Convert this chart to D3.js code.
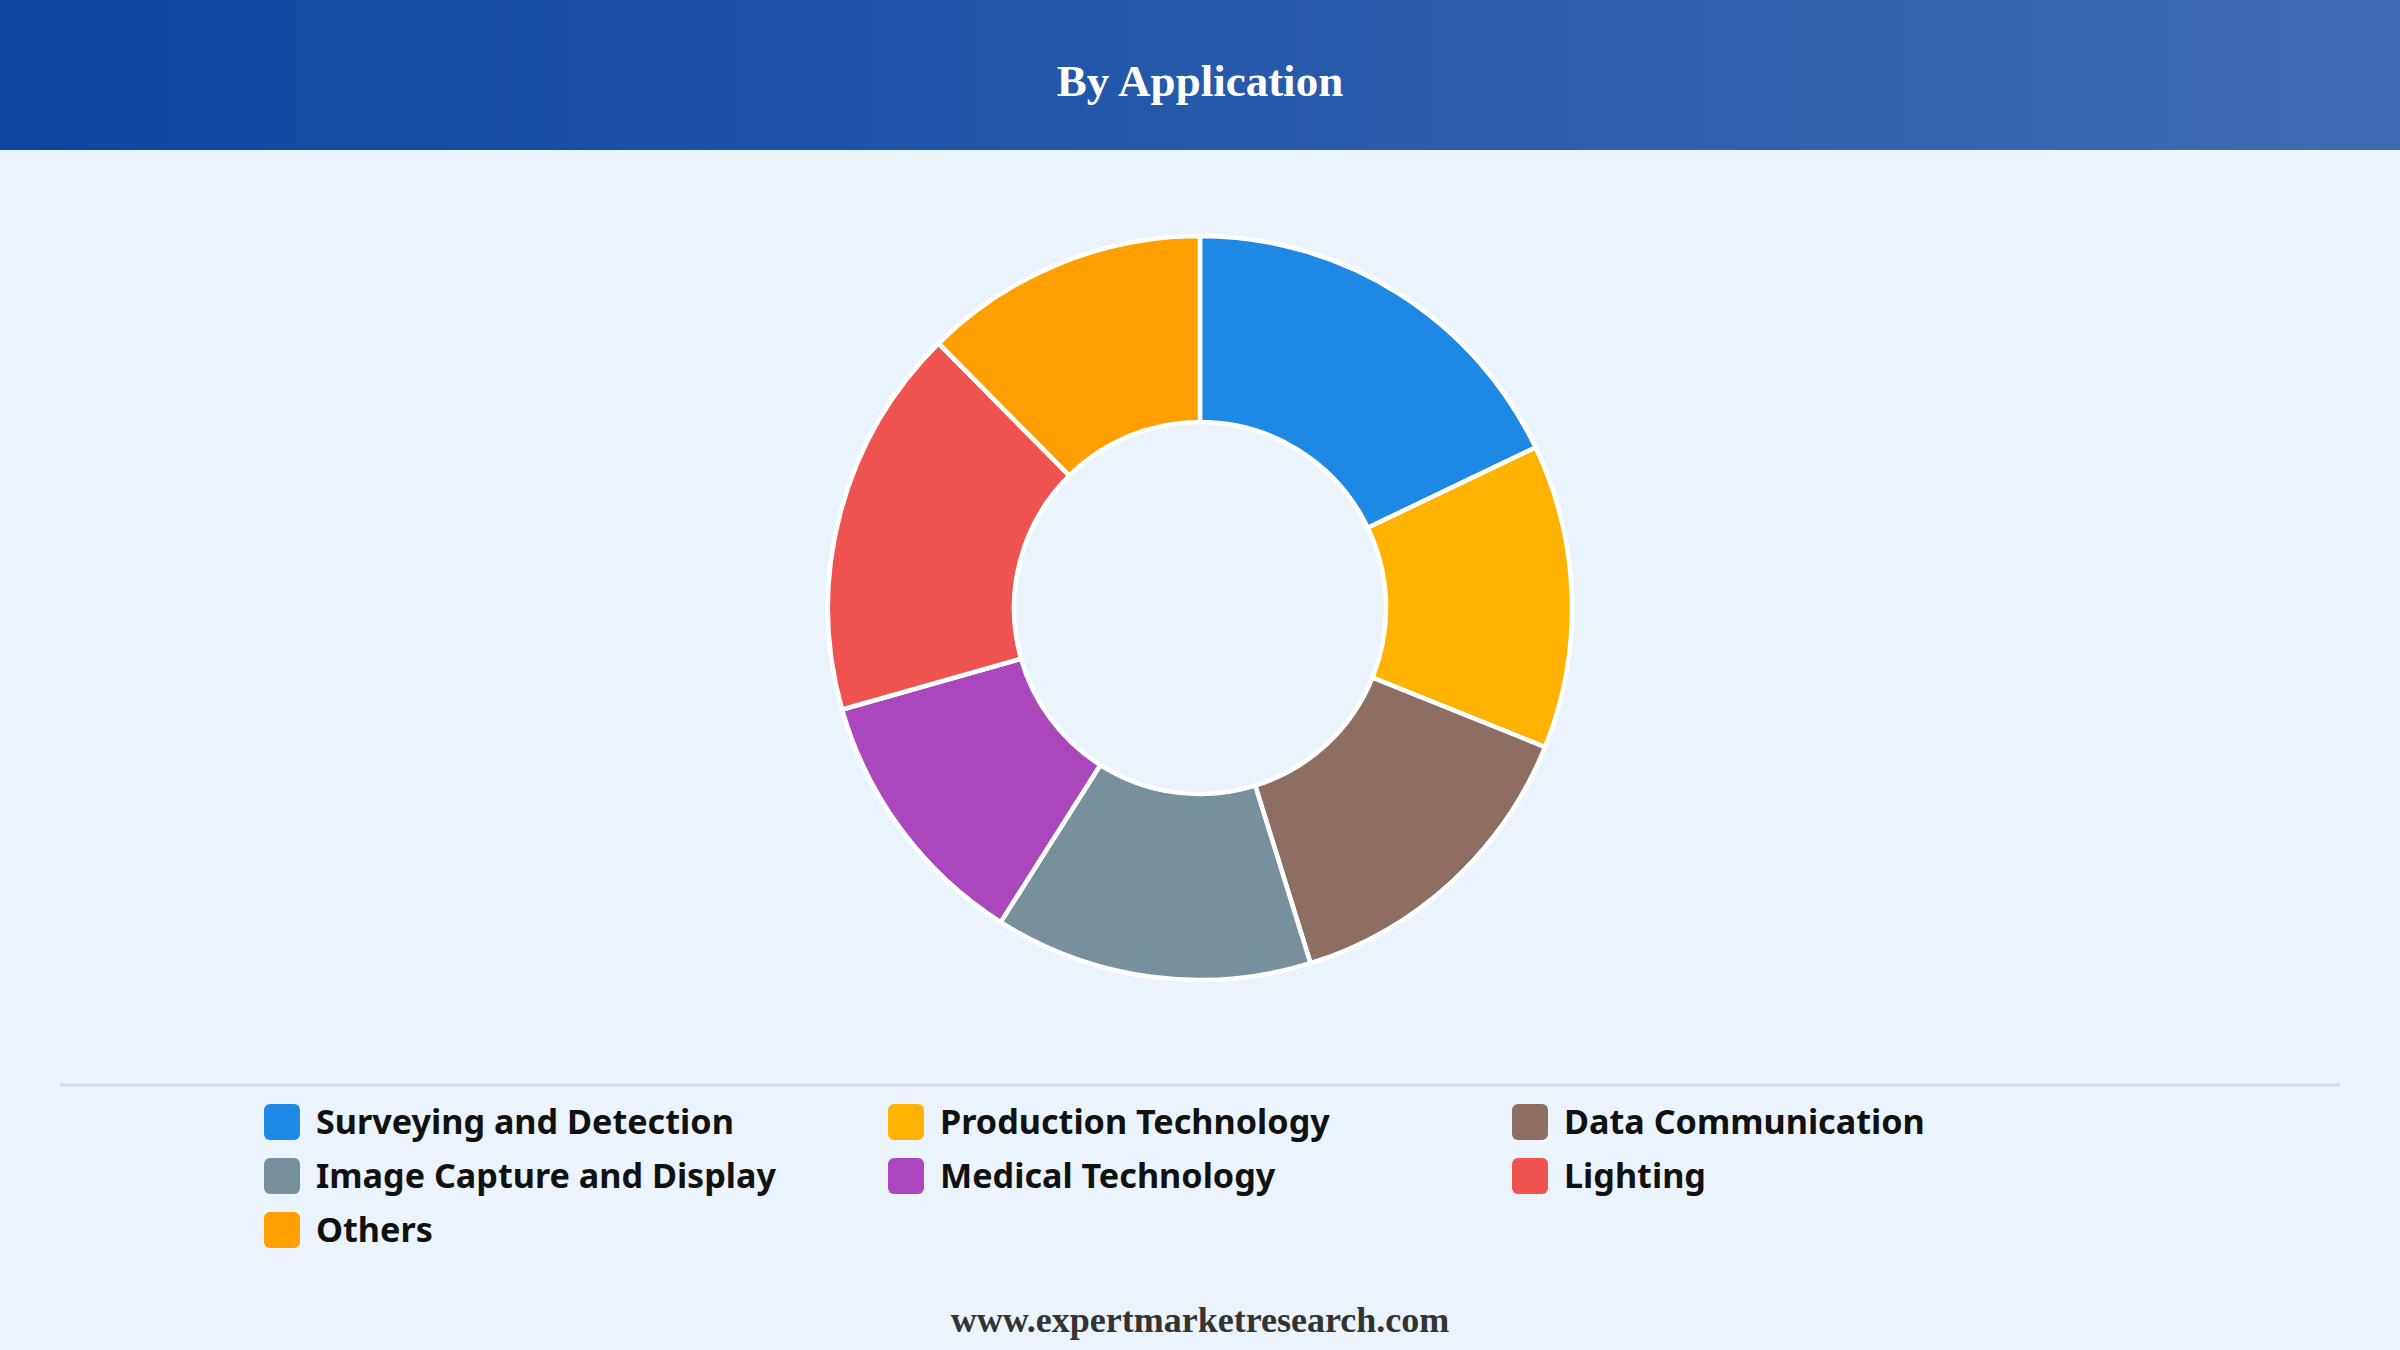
<!DOCTYPE html>
<html>
<head>
<meta charset="utf-8">
<script src="https://cdn.jsdelivr.net/npm/d3@7"></script>
<style>
  html, body { margin: 0; padding: 0; background: #EBF3FC; }
  svg { display: block; }
</style>
</head>
<body>
<svg id="chart" width="2400" height="1350"></svg>
<script>
// ---- data ----
const title = "By Application";
const footer = "www.expertmarketresearch.com";
const categories = [
  "Surveying and Detection",
  "Production Technology",
  "Data Communication",
  "Image Capture and Display",
  "Medical Technology",
  "Lighting",
  "Others"
];
const values = [17.9, 13.2, 14.1, 13.8, 11.6, 17.0, 12.4];
const colors = ["#1E88E5", "#FFB300", "#8D6E63", "#78909C", "#AB47BC", "#EF5350", "#FFA000"];

// ---- layout ----
const W = 2400, H = 1350;
const svg = d3.select("#chart");

const defs = svg.append("defs");
const grad = defs.append("linearGradient").attr("id", "hdr").attr("x1", "0%").attr("x2", "100%").attr("y1", "0%").attr("y2", "0%");
grad.append("stop").attr("offset", "0%").attr("stop-color", "#0D47A1");
grad.append("stop").attr("offset", "100%").attr("stop-color", "#3D6BB3");

svg.append("rect").attr("x", 0).attr("y", 0).attr("width", W).attr("height", H).attr("fill", "#EBF3FC");
svg.append("rect").attr("x", 0).attr("y", 0).attr("width", W).attr("height", 150).attr("fill", "url(#hdr)");

svg.append("text")
  .attr("x", W / 2).attr("y", 96)
  .attr("text-anchor", "middle")
  .attr("fill", "#ffffff")
  .style("font-family", "'Liberation Serif', 'Times New Roman', serif")
  .style("font-weight", "700")
  .style("font-size", "45px")
  .text(title);

// ---- donut ----
const cx = 1200, cy = 608, rOuter = 372, rInner = 186;
const pie = d3.pie().sort(null).value(d => d);
const arc = d3.arc().innerRadius(rInner).outerRadius(rOuter);
const color = d3.scaleOrdinal().domain(categories).range(colors);

const g = svg.append("g").attr("transform", `translate(${cx},${cy})`);
g.selectAll("path")
  .data(pie(values))
  .join("path")
  .attr("d", arc)
  .attr("fill", (d, i) => color(categories[i]))
  .attr("stroke", "#ffffff")
  .attr("stroke-width", 4.5)
  .attr("stroke-linejoin", "round");

// ---- separator ----
svg.append("line")
  .attr("x1", 60).attr("x2", 2340)
  .attr("y1", 1085).attr("y2", 1085)
  .attr("stroke", "#D5DAE0").attr("stroke-width", 3);

// ---- legend ----
const colX = d3.scaleLinear().domain([0, 1]).range([264, 888]);
const rowY = d3.scaleLinear().domain([0, 1]).range([1104, 1158]);
const legend = svg.append("g");
const items = legend.selectAll("g.item")
  .data(categories)
  .join("g")
  .attr("class", "item")
  .attr("transform", (d, i) => `translate(${colX(i % 3)},${rowY(Math.floor(i / 3))})`);

items.append("rect")
  .attr("width", 36).attr("height", 36)
  .attr("rx", 6).attr("ry", 6)
  .attr("fill", d => color(d));

const labels = items.append("text")
  .attr("x", 52).attr("y", 30)
  .attr("fill", "#111111")
  .style("font-family", "'Noto Sans', 'Open Sans', sans-serif")
  .style("font-weight", "700")
  .style("font-size", "33px")
  .text(d => d);

// fit font size so first label width matches reference (~418px)
const w0 = labels.node().getComputedTextLength();
const fs = Math.max(26, Math.min(36, 33 * 418 / w0));
labels.style("font-size", fs + "px");

// ---- footer ----
svg.append("text")
  .attr("x", W / 2).attr("y", 1332)
  .attr("text-anchor", "middle")
  .attr("fill", "#333333")
  .style("font-family", "'Liberation Serif', 'Times New Roman', serif")
  .style("font-weight", "700")
  .style("font-size", "36px")
  .text(footer);
</script>
</body>
</html>
